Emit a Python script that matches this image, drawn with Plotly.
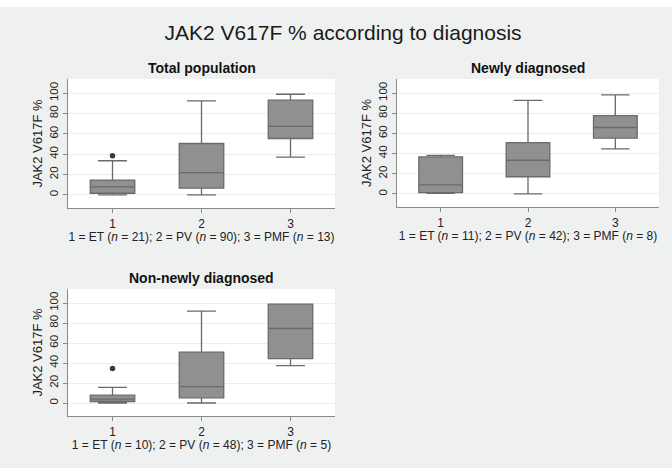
import plotly.graph_objects as go

W, H = 672, 468

categories = [1, 2, 3]

# Total population
tot_low = [0, 0, 37]
tot_q1 = [1.5, 6.6, 55.4]
tot_med = [7.8, 21.8, 67.3]
tot_q3 = [14.5, 50.5, 93.2]
tot_high = [33.5, 92.5, 99]
tot_out_x = [1]
tot_out_y = [38.5]

# Newly diagnosed
new_low = [0.5, 0, 44.6]
new_q1 = [1.2, 17, 55.4]
new_med = [8.9, 33.4, 65.9]
new_q3 = [36.7, 50.8, 77.7]
new_high = [38.2, 92.8, 98.2]

# Non-newly diagnosed
non_low = [0, 0, 37.3]
non_q1 = [1.5, 5.2, 44.4]
non_med = [3.9, 16.3, 74.5]
non_q3 = [7.8, 50.8, 98.8]
non_high = [15.7, 91.8, 98.8]
non_out_x = [1]
non_out_y = [34.6]

titles = ["Total population", "Newly diagnosed", "Non-newly diagnosed"]
xtitles = [
    "1 = ET (<i>n</i> = 21); 2 = PV (<i>n</i> = 90); 3 = PMF (<i>n</i> = 13)",
    "1 = ET (<i>n</i> = 11); 2 = PV (<i>n</i> = 42); 3 = PMF (<i>n</i> = 8)",
    "1 = ET (<i>n</i> = 10); 2 = PV (<i>n</i> = 48); 3 = PMF (<i>n</i> = 5)",
]
ytick_vals = [0, 20, 40, 60, 80, 100]

# pixel boxes of plot areas: (x0, x1, ytop, ybottom)
panels = [(68, 335, 79, 208), (397, 659, 79, 207), (68, 335, 289, 416)]

FILL = "#909090"
LINE = "#6a6a6a"
FONT = "Liberation Sans, Arial, sans-serif"

fig = go.Figure()

data_sets = [
    (tot_low, tot_q1, tot_med, tot_q3, tot_high, tot_out_x, tot_out_y),
    (new_low, new_q1, new_med, new_q3, new_high, [], []),
    (non_low, non_q1, non_med, non_q3, non_high, non_out_x, non_out_y),
]

for i, (lo, q1, med, q3, hi, ox, oy) in enumerate(data_sets):
    sfx = "" if i == 0 else str(i + 1)
    fig.add_trace(go.Box(
        x=categories, lowerfence=lo, q1=q1, median=med, q3=q3, upperfence=hi,
        fillcolor=FILL, line=dict(color=LINE, width=1.3), width=0.5,
        whiskerwidth=0.65, boxpoints=False, showlegend=False,
        xaxis="x" + sfx, yaxis="y" + sfx, hoverinfo="skip",
    ))
    if ox:
        fig.add_trace(go.Scatter(
            x=ox, y=oy, mode="markers",
            marker=dict(color="#3a3a3a", size=5.5, line=dict(width=0)),
            showlegend=False, xaxis="x" + sfx, yaxis="y" + sfx,
        ))

layout = dict(
    width=W, height=H,
    margin=dict(l=0, r=0, t=0, b=0),
    paper_bgcolor="#eff1f1",
    plot_bgcolor="#ffffff",
    font=dict(family=FONT, color="#222222"),
    title=dict(text="JAK2 V617F % according to diagnosis", x=343 / W, xanchor="center",
               y=1 - 33 / H, yanchor="middle",
               font=dict(size=21, family=FONT, color="#1a1a1a")),
    annotations=[],
    shapes=[dict(type="rect", xref="paper", yref="paper", x0=0, x1=1,
                 y0=1 - 7 / H, y1=1, fillcolor="#ffffff", line=dict(width=0), layer="below")],
)

for i, (x0, x1, yt, yb) in enumerate(panels):
    sfx = "" if i == 0 else str(i + 1)
    layout["xaxis" + sfx] = dict(
        domain=[x0 / W, x1 / W], anchor="y" + sfx, range=[0.5, 3.5],
        tickvals=categories, ticktext=[str(c) for c in categories],
        showgrid=False, zeroline=False, showline=True, linecolor="#8a8a8a", linewidth=1.2,
        ticks="outside", ticklen=4, tickcolor="#8a8a8a",
        tickfont=dict(size=12, color="#222222"),
        title=dict(text=xtitles[i], font=dict(size=12, color="#222222"), standoff=1),
    )
    layout["yaxis" + sfx] = dict(
        domain=[1 - yb / H, 1 - yt / H], anchor="x" + sfx, range=[-13, 114],
        tickvals=ytick_vals, tickangle=-90,
        showgrid=True, gridcolor="#ededed", gridwidth=1,
        zeroline=False, showline=True, linecolor="#8a8a8a", linewidth=1.2,
        ticks="outside", ticklen=4, tickcolor="#8a8a8a",
        tickfont=dict(size=11.5, color="#222222"),
        title=dict(text="JAK2 V617F %", font=dict(size=13, color="#222222"), standoff=2),
    )
    layout["annotations"].append(dict(
        text="<b>" + titles[i] + "</b>", xref="paper", yref="paper",
        x=(x0 + x1) / 2 / W, y=1 - (yt - 11) / H, xanchor="center", yanchor="middle",
        showarrow=False, font=dict(size=14, color="#111111", family=FONT),
    ))

fig.update_layout(**layout)
fig.write_html("out.html")
